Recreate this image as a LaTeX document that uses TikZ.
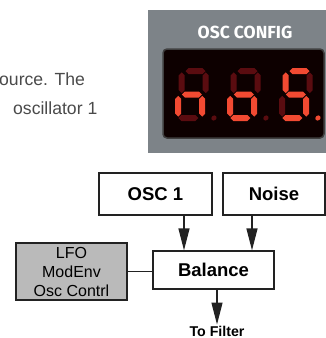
\documentclass[tikz,border=0pt]{standalone}
\usepackage{fontspec}
\setmainfont{Liberation Sans}
\newfontfamily\panelfont{Fira Sans}
\usetikzlibrary{positioning,arrows.meta,calc}
\definecolor{panelgray}{HTML}{7D8388}
\definecolor{segon}{HTML}{F24A32}
\definecolor{segoff}{HTML}{5A0C10}
\definecolor{modgray}{HTML}{BABABA}
\definecolor{bodygray}{HTML}{4A4A4A}
\definecolor{inkgray}{HTML}{222222}
% one slanted seven segment digit: x origin, segments a b c d e f g, point
\newcommand{\segdigit}[9]{%
  \begin{scope}[shift={(#1,121)},xslant=0.15]
    \pic[fill=#2] at (16,-50) {hseg};
    \pic[fill=#3] at (28,-38.25) {vseg};
    \pic[fill=#4] at (28,-14.75) {vseg};
    \pic[fill=#5] at (16,-3) {hseg};
    \pic[fill=#6] at (4,-14.75) {vseg};
    \pic[fill=#7] at (4,-38.25) {vseg};
    \pic[fill=#8] at (16,-26.5) {hseg};
    \fill[#9] (41.5,-3) circle (2.6pt);
  \end{scope}}

\begin{document}
\begin{tikzpicture}[
x=1pt,y=-1pt,
block/.style={
  draw=inkgray,
  line width=1.3pt,
  fill=white,
  inner sep=0pt,
  font=\fontsize{18.5}{22}\selectfont\bfseries
  },
modsrc/.style={
  block,
  fill=modgray,
  align=center,
  font=\fontsize{16}{19}\selectfont
  },
link/.style={
  draw=inkgray,
  line width=1.3pt
  },
hseg/.pic={\fill (-10,0) -- (-7,-3) -- (7,-3) -- (10,0) -- (7,3) -- (-7,3) -- cycle;},
vseg/.pic={\fill (0,-10.3) -- (3,-7.3) -- (3,7.3) -- (0,10.3) -- (-3,7.3) -- (-3,-7.3) -- cycle;},
>={Triangle[length=22pt,width=11pt]}
]
\useasboundingbox (0,0) rectangle (326,338);

% display panel
\fill[panelgray] (148,10) rectangle (326,153);
\node[font=\panelfont\bfseries\fontsize{17.5}{20}\selectfont, text=white, anchor=base, inner sep=0pt] (cfg) at (245,38) {OSC CONFIG};
\filldraw[fill=black!95!red, draw=black!75, line width=1.5pt, rounded corners=4pt] (163,49) rectangle (324,138);
\segdigit{172}{segoff}{segoff}{segon}{segoff}{segon}{segoff}{segon}{segoff}
\segdigit{224}{segoff}{segoff}{segon}{segon}{segon}{segoff}{segon}{segoff}
\segdigit{276}{segon}{segoff}{segon}{segon}{segoff}{segon}{segon}{segon}

\node[anchor=base west, inner sep=0pt, text=bodygray, font=\fontsize{17.6}{20}\selectfont] (lineone) at (-1,85) {ource. The};
\node[anchor=base west, inner sep=0pt, text=bodygray, font=\fontsize{17.6}{20}\selectfont] (linetwo) at (13,114.5) {oscillator 1};

% block diagram
\node[block, minimum width=113pt, minimum height=42pt] (osc) at (155.5,194) {OSC 1};
\node[block, minimum width=102pt, minimum height=42pt] (noise) at (274,194) {Noise};
\node[block, minimum width=121pt, minimum height=38pt] (bal) at (213.5,270) {Balance};
\node[modsrc, minimum width=111pt, minimum height=57pt] (mod) at (71.5,271.5) {LFO\\ModEnv\\Osc Contrl};
\node[inner sep=0pt, anchor=base, font=\fontsize{14.2}{16}\selectfont\bfseries] (filt) at (217,336.5) {To Filter};

  \draw[link,->,fill=inkgray] ([xshift=28.5pt]osc.south) -- ([xshift=28.5pt]osc.south |- bal.north);
  \draw[link,->,fill=inkgray] ([xshift=-22pt]noise.south) -- ([xshift=-22pt]noise.south |- bal.north);
  \draw[link] (mod.east) -- (mod.east -| bal.west);
  \draw[link,->,fill=inkgray] (filt.north |- bal.south) -- ([yshift=1.5pt]filt.north);
\end{tikzpicture}
\end{document}
